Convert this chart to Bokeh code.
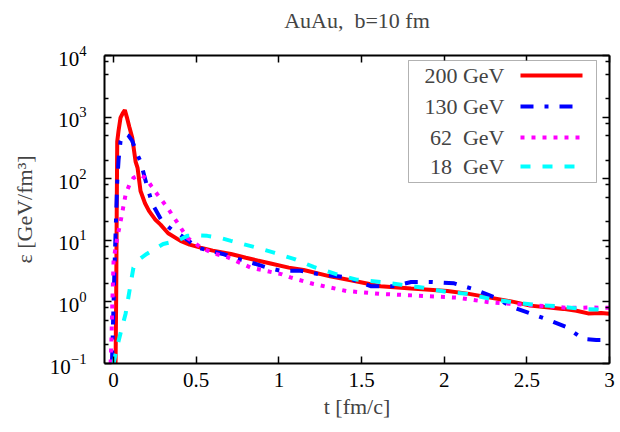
from bokeh.plotting import figure
from bokeh.models import (FixedTicker, LinearAxis, LogAxis, Range1d, Label,
                          BoxAnnotation, Arrow, CustomJSTickFormatter)
from bokeh.embed import file_html
from bokeh.resources import INLINE

# ---------------- data ----------------
series_names = ["200 GeV", "130 GeV", "62\u00a0 GeV", "18\u00a0 GeV"]

t_200 = [0.012, 0.016, 0.019, 0.022, 0.03, 0.042, 0.055, 0.068, 0.08, 0.095,
         0.113, 0.133, 0.145, 0.163, 0.19, 0.214, 0.25, 0.284, 0.33, 0.405,
         0.46, 0.526, 0.6, 0.71, 0.8, 0.87, 0.95, 1.06, 1.15, 1.31, 1.45,
         1.615, 1.8, 2.02, 2.15, 2.32, 2.42, 2.52, 2.62, 2.72, 2.8, 2.87,
         2.95, 3.0]
eps_200 = [0.1, 1.5, 30, 400, 600, 980, 1150, 1300, 1000, 700,
           460, 190, 150, 63, 40, 30, 22, 18, 13, 9.8,
           8.5, 7.6, 6.8, 6.0, 5.2, 4.7, 4.2, 3.6, 3.3, 2.6, 2.2,
           1.8, 1.65, 1.5, 1.35, 1.12, 1.0, 0.87, 0.82, 0.77, 0.72, 0.65,
           0.66, 0.64]

t_130 = [-0.01, -0.005, 0.0, 0.006, 0.012, 0.022, 0.03, 0.042, 0.055, 0.073,
         0.09, 0.113, 0.14, 0.163, 0.2, 0.234, 0.295, 0.35, 0.395, 0.45,
         0.506, 0.58, 0.66, 0.75, 0.85, 0.93, 1.01, 1.13, 1.25, 1.41, 1.555,
         1.69, 1.8, 1.93, 2.06, 2.18, 2.3, 2.42, 2.52, 2.64, 2.74, 2.84,
         2.92, 3.0]
eps_130 = [0.1, 0.3, 1.0, 4, 13, 90, 200, 410, 500, 530,
           500, 410, 260, 190, 80, 39, 20, 15, 12.6, 10,
           7.6, 6.8, 6.0, 5.0, 4.2, 3.6, 3.2, 3.2, 2.8, 2.5, 1.8,
           1.8, 2.1, 2.1, 2.0, 1.6, 1.2, 0.81, 0.65, 0.5, 0.39, 0.25,
           0.24, 0.24]

t_62 = [-0.018, -0.012, -0.008, -0.004, 0.0, 0.012, 0.025, 0.042, 0.073, 0.1,
        0.12, 0.16, 0.194, 0.23, 0.264, 0.325, 0.385, 0.446, 0.53, 0.6,
        0.69, 0.83, 1.02, 1.07, 1.21, 1.41, 1.615, 1.875, 2.08, 2.28,
        2.48, 2.62, 2.75, 2.89, 3.0]
eps_62 = [0.1, 0.3, 0.9, 2, 4.7, 7.6, 12, 20, 56, 85,
          103, 115, 103, 75, 56, 34, 19.5, 11, 7.6, 6.2,
          5.3, 3.6, 2.8, 2.5, 1.95, 1.5, 1.35, 1.25, 1.17, 0.98,
          0.9, 0.85, 0.8, 0.81, 0.8]

t_18 = [0.0, 0.02, 0.042, 0.073, 0.093, 0.12, 0.16, 0.2, 0.3, 0.385,
        0.446, 0.5, 0.567, 0.64, 0.71, 0.85, 0.97, 1.09, 1.21, 1.35,
        1.47, 1.615, 1.74, 1.875, 2.02, 2.14, 2.28, 2.42, 2.55, 2.68,
        2.83, 2.96, 3.0]
eps_18 = [0.1, 0.18, 0.31, 0.65, 1.35, 3.6, 5, 6, 8.7, 9.8,
          11.8, 12, 11.8, 11, 9.8, 7.8, 6.3, 5, 3.7, 2.8,
          2.3, 2.1, 1.9, 1.7, 1.44, 1.35, 1.12, 0.98, 0.9, 0.85,
          0.77, 0.75, 0.75]

x_ticks = [0, 0.5, 1, 1.5, 2, 2.5, 3]
y_ticks = [0.1, 1, 10, 100, 1000, 10000]
y_minor_factors = [2, 5, 8]

title_text = "AuAu,\u00a0 b=10 fm"
x_label = "t [fm/c]"
y_label = "ε [GeV/fm³]"

# ---------------- styling ----------------
FONT = "Liberation Serif"
colors = ["#ff0000", "#0000ff", "#ff00ff", "#00ffff"]
dashes = ["solid", "13 11 4 11", "4 7", "10 12"]
LW = 4

y_minor = [f * d for d in y_ticks[:-1] for f in y_minor_factors]

p = figure(width=616, height=424, output_backend="svg", toolbar_location=None,
           y_axis_type="log", x_range=Range1d(-0.055, 3.0),
           y_range=Range1d(0.1, 1e4), title=title_text,
           min_border_left=104, min_border_right=7, min_border_top=54,
           min_border_bottom=61)
p.grid.visible = False
p.outline_line_color = None
p.background_fill_color = "white"
p.border_fill_color = "white"

p.title.text_font = FONT
p.title.text_font_size = "22px"
p.title.text_font_style = "normal"
p.title.align = "center"

series = [(t_200, eps_200), (t_130, eps_130), (t_62, eps_62), (t_18, eps_18)]
for (tt, ee), c, d in zip(series, colors, dashes):
    p.line(tt, ee, line_color=c, line_width=LW, line_dash=d)

xt = FixedTicker(ticks=x_ticks, minor_ticks=[])
yt = FixedTicker(ticks=y_ticks, minor_ticks=y_minor)

def style_axis(ax):
    ax.axis_line_width = 2
    ax.axis_line_color = "black"
    ax.major_tick_in = 7
    ax.major_tick_out = 0
    ax.minor_tick_in = 4
    ax.minor_tick_out = 0
    ax.major_tick_line_width = 1.5
    ax.minor_tick_line_width = 1.5
    ax.major_label_text_font = FONT
    ax.major_label_text_font_size = "21px"
    ax.major_label_text_color = "black"
    ax.axis_label_text_font = FONT
    ax.axis_label_text_font_size = "22px"
    ax.axis_label_text_font_style = "normal"

xa = p.xaxis[0]
xa.ticker = xt
style_axis(xa)
xa.axis_label = x_label
xa.major_label_standoff = 9
xa.axis_label_standoff = 4

ya = p.yaxis[0]
ya.ticker = yt
style_axis(ya)
ya.axis_label = y_label
ya.major_label_standoff = 18
ya.axis_label_standoff = 10

blank = CustomJSTickFormatter(code="return ''")
top = LinearAxis(ticker=xt, formatter=blank)
style_axis(top)
top.major_label_standoff = 0
# a blank axis label only reserves room so that the title sits higher
top.axis_label = " "
top.axis_label_text_font_size = "10px"
top.axis_label_standoff = 4
p.add_layout(top, "above")

right = LogAxis(ticker=yt, formatter=blank)
style_axis(right)
right.major_label_standoff = 0
p.add_layout(right, "right")

# ---------------- legend (label left of sample, as in the reference) ----------------
box = BoxAnnotation(left=304, right=492, bottom=181, top=303,
                    left_units="screen", right_units="screen",
                    bottom_units="screen", top_units="screen",
                    fill_color="white", fill_alpha=1.0,
                    line_color="black", line_width=1)
p.add_layout(box)
row_y = [288, 257, 226, 197]
for name, c, d, yy in zip(series_names, colors, dashes, row_y):
    p.add_layout(Label(x=400, y=yy, x_units="screen", y_units="screen",
                       text=name, text_font=FONT, text_font_size="22px",
                       text_align="right", text_baseline="middle"))
    p.add_layout(Arrow(x_start=416, y_start=yy, x_end=478, y_end=yy,
                       start_units="screen", end_units="screen",
                       start=None, end=None, line_color=c, line_width=LW,
                       line_dash=d))

open("out.html", "w").write(file_html(p, INLINE))
